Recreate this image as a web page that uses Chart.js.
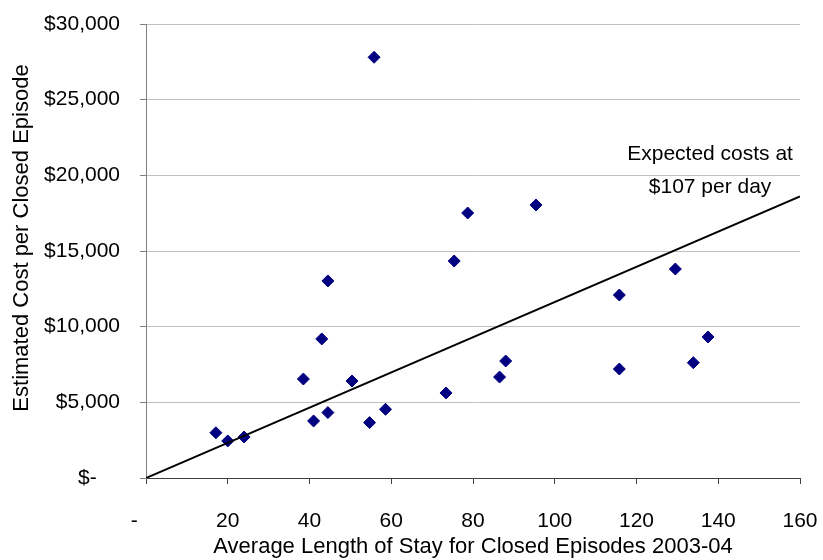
<!DOCTYPE html>
<html>
<head>
<meta charset="utf-8">
<script src="https://cdn.jsdelivr.net/npm/chart.js@4.4.1/dist/chart.umd.min.js"></script>
<style>
  html, body { margin: 0; padding: 0; background: #ffffff; }
  #wrap { width: 823px; height: 560px; position: relative; }
</style>
</head>
<body>
<div id="wrap"><canvas id="c" width="823" height="560"></canvas></div>
<script>
// ---- Data ----
const stayDays = [17.1, 20.0, 24.0, 38.5, 41.0, 43.0, 44.5, 44.5, 50.4, 54.7, 55.8, 58.6,
                  73.4, 75.4, 78.7, 86.5, 88.0, 95.4, 115.8, 115.8, 129.5, 133.9, 137.5];
const costPerEpisode = [2990, 2450, 2710, 6540, 3770, 9190, 13020, 4320, 6410, 3660, 27800, 4540,
                        5620, 14340, 17510, 6670, 7730, 18040, 12090, 7200, 13810, 7620, 9320];
const expectedX = [0, 160];
const expectedY = [0, 18600];
const xTickValues = [0, 20, 40, 60, 80, 100, 120, 140, 160];
const yTickValues = [0, 5000, 10000, 15000, 20000, 25000, 30000];
const xTitle = 'Average Length of Stay for Closed Episodes 2003-04';
const yTitle = 'Estimated Cost per Closed Episode';
const noteLines = ['Expected costs at', '$107 per day'];

const FONT = '"Liberation Sans", Arial, sans-serif';
const FS = 21;
const FT = 22;

const scatterPts = stayDays.map((x, i) => ({ x: x, y: costPerEpisode[i] }));
const linePts = expectedX.map((x, i) => ({ x: x, y: expectedY[i] }));

const notePlugin = {
  id: 'notePlugin',
  afterDraw(chart) {
    const ctx = chart.ctx;
    const xs = chart.scales.x, ys = chart.scales.y;
    ctx.save();
    ctx.fillStyle = '#000000';
    ctx.textAlign = 'center';
    ctx.textBaseline = 'middle';
    ctx.font = FS + 'px ' + FONT;
    const cx = xs.getPixelForValue(138);
    ctx.fillText(noteLines[0], cx, ys.getPixelForValue(21410));
    ctx.fillText(noteLines[1], cx, ys.getPixelForValue(19230));
    // y axis title
    ctx.font = FT + 'px ' + FONT;
    ctx.translate(22, 238);
    ctx.rotate(-Math.PI / 2);
    ctx.fillText(yTitle, 0, 0);
    ctx.restore();
  }
};

new Chart(document.getElementById('c'), {
  type: 'scatter',
  data: {
    datasets: [
      {
        type: 'line',
        label: 'Expected',
        data: linePts,
        borderColor: '#000000',
        borderWidth: 2,
        pointRadius: 0,
        fill: false,
        order: 0
      },
      {
        label: 'Programs',
        data: scatterPts,
        pointStyle: 'rectRot',
        pointRadius: 6,
        pointBackgroundColor: '#000080',
        pointBorderColor: '#000080',
        pointBorderWidth: 1,
        order: 1
      }
    ]
  },
  plugins: [notePlugin],
  options: {
    responsive: false,
    animation: false,
    layout: { padding: { left: 0, right: 23, top: 24, bottom: 0 } },
    plugins: { legend: { display: false }, tooltip: { enabled: false } },
    scales: {
      x: {
        type: 'linear',
        min: 0, max: 160,
        afterBuildTicks: s => { s.ticks = xTickValues.map(v => ({ value: v })); },
        afterFit: s => { s.height = 82; s.paddingLeft = 0; s.paddingRight = 0; },
        border: { color: '#404040', width: 1 },
        grid: { drawOnChartArea: false, drawTicks: true, tickLength: 6, tickColor: '#404040' },
        ticks: {
          color: '#000000',
          font: { family: FONT, size: FS },
          padding: 25,
          maxRotation: 0,
          callback: v => v === 0 ? '-\u00a0\u00a0\u00a0\u00a0' : String(v)
        },
        title: {
          display: true, text: xTitle, color: '#000000',
          font: { family: FONT, size: FT },
          padding: { top: 0, bottom: 0 }
        }
      },
      y: {
        type: 'linear',
        min: 0, max: 30000,
        afterBuildTicks: s => { s.ticks = yTickValues.map(v => ({ value: v })); },
        afterFit: s => { s.width = 146; s.paddingTop = 0; s.paddingBottom = 0; },
        border: { color: '#808080', width: 1 },
        grid: { color: '#c0c0c0', lineWidth: 1, drawTicks: true, tickLength: 6, tickColor: '#808080' },
        ticks: {
          color: '#000000',
          font: { family: FONT, size: FS },
          padding: 20,
          callback: v => v === 0 ? '$-\u00a0\u00a0\u00a0\u00a0' : '$' + v.toLocaleString('en-US')
        }
      }
    }
  }
});
</script>
</body>
</html>
